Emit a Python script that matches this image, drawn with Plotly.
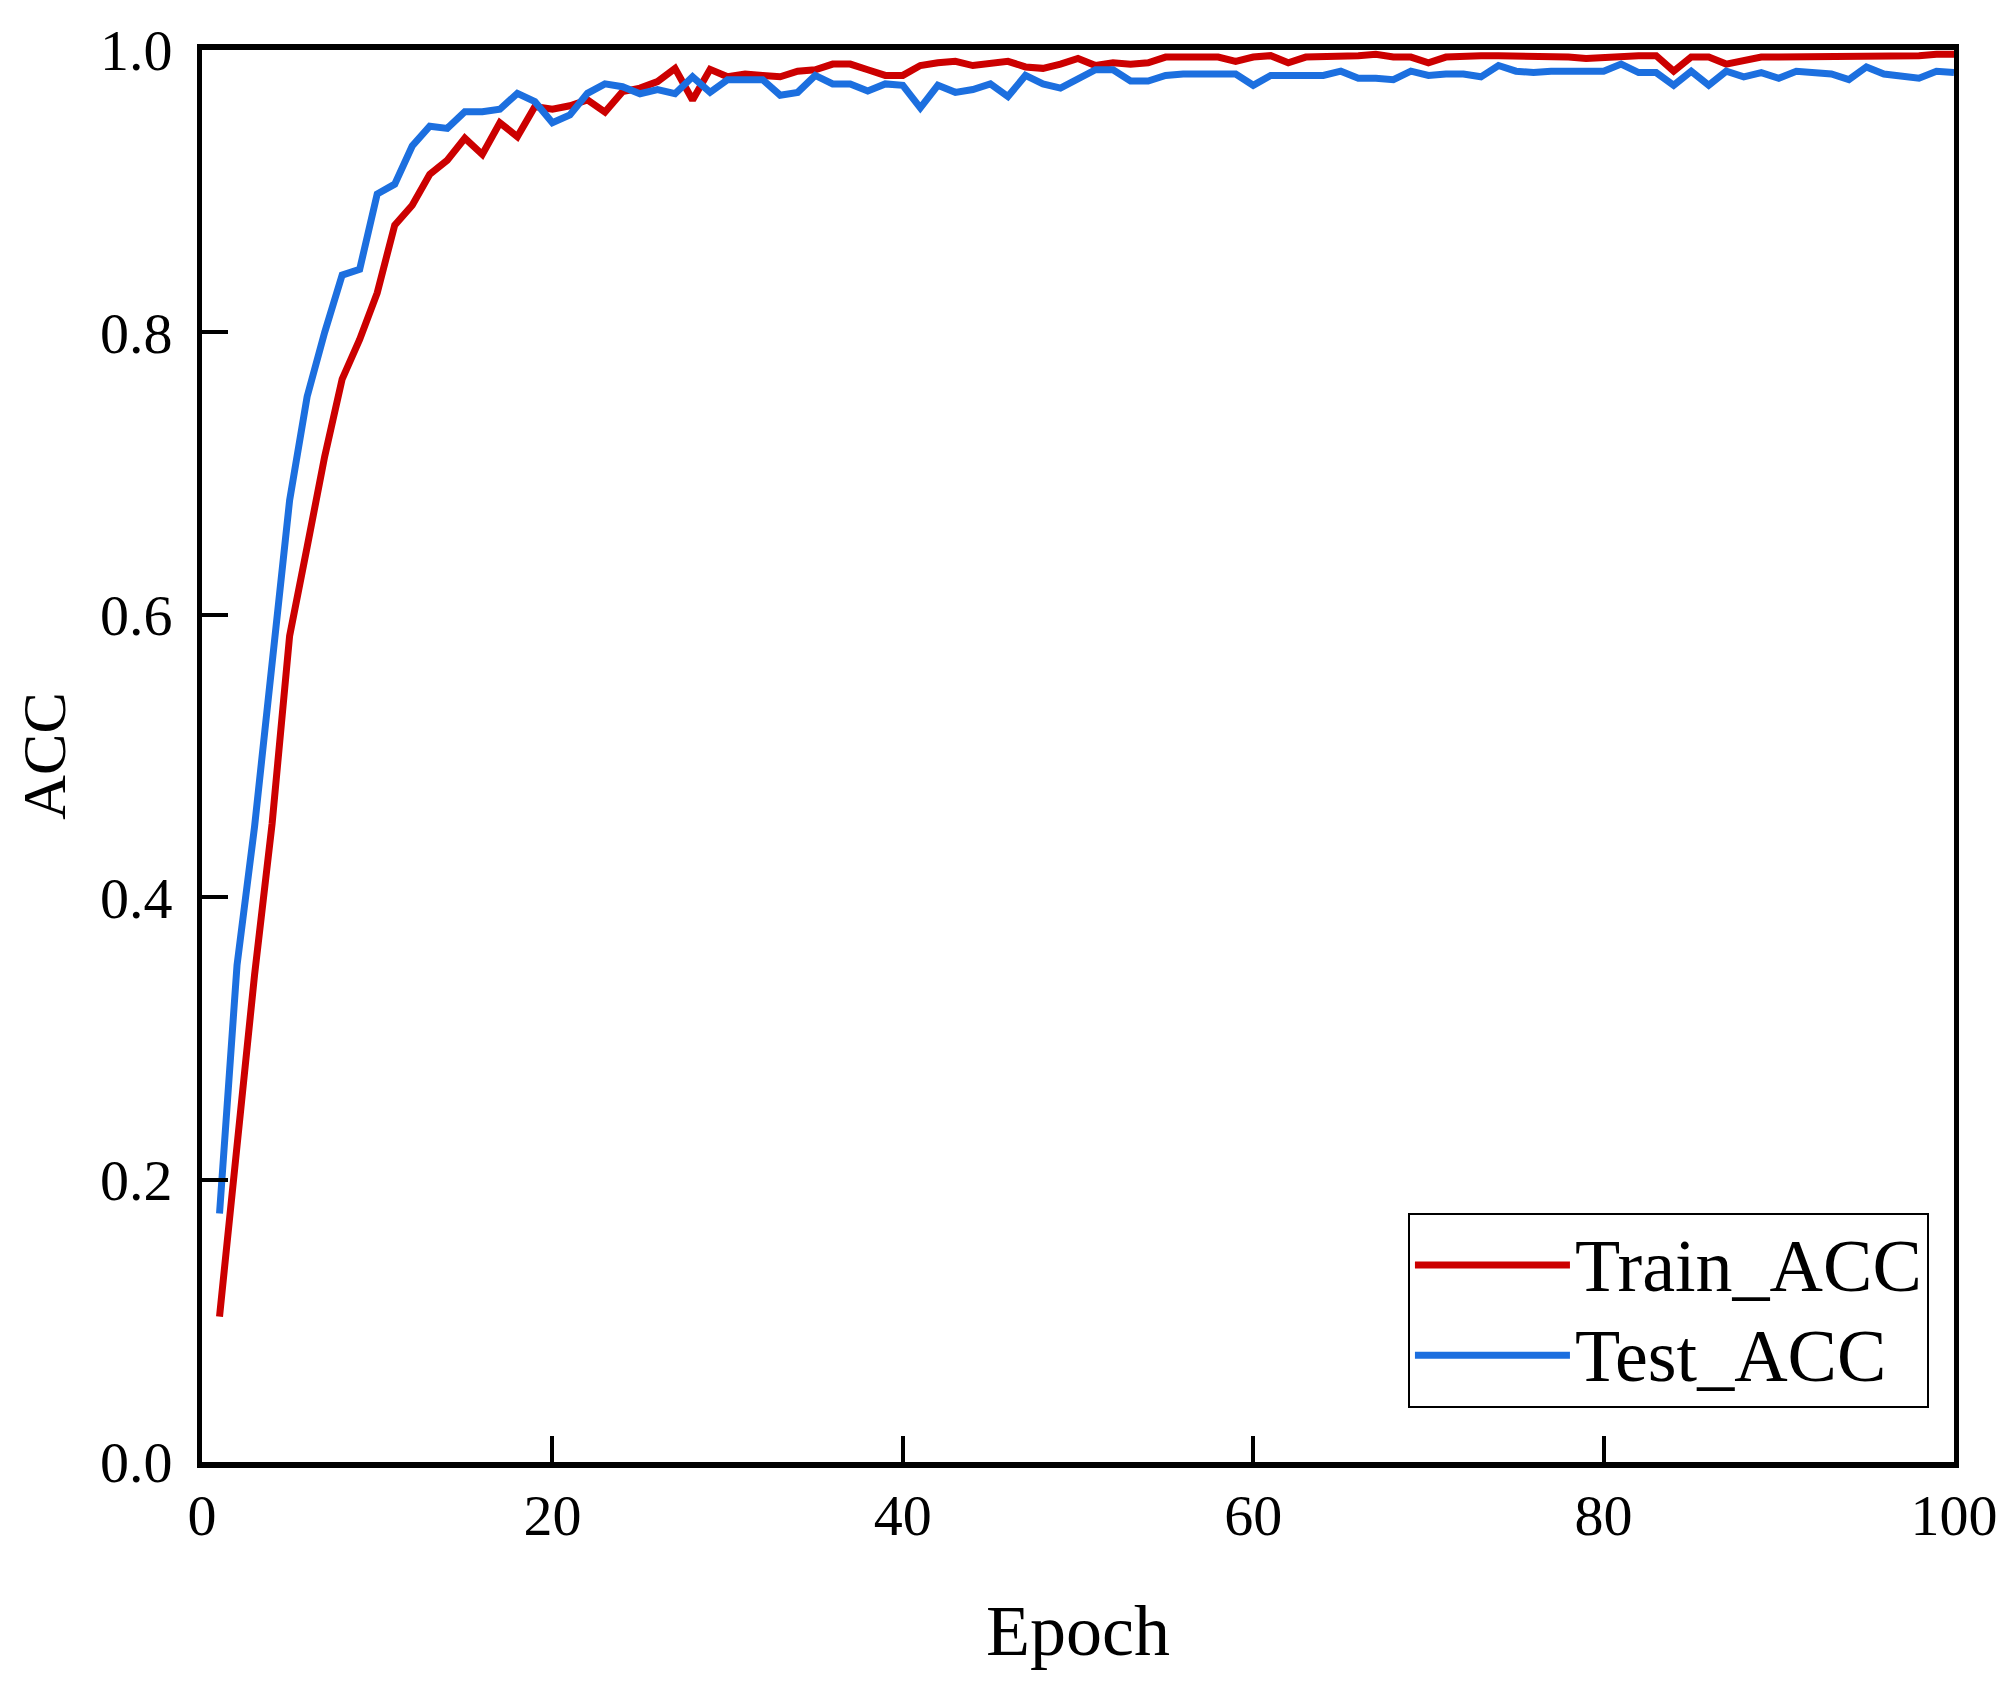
import plotly.graph_objects as go

epochs = list(range(1, 101))

train_acc = [
    0.103, 0.225, 0.345, 0.452, 0.585, 0.648, 0.712, 0.767, 0.795, 0.828,
    0.876, 0.890, 0.912, 0.922, 0.9375, 0.926, 0.9485, 0.9386, 0.960, 0.958,
    0.9605, 0.9646, 0.956, 0.9705, 0.973, 0.9776, 0.987, 0.9646, 0.9863, 0.981,
    0.983, 0.982, 0.981, 0.985, 0.986, 0.990, 0.990, 0.986, 0.982, 0.982,
    0.989, 0.991, 0.992, 0.989, 0.991, 0.992, 0.988, 0.987, 0.990, 0.994,
    0.989, 0.991, 0.990, 0.991, 0.995, 0.995, 0.995, 0.995, 0.992, 0.995,
    0.996, 0.991, 0.995, 0.995, 0.995, 0.996, 0.997, 0.995, 0.995, 0.991,
    0.995, 0.996, 0.996, 0.996, 0.996, 0.996, 0.996, 0.995, 0.994, 0.995,
    0.996, 0.996, 0.996, 0.985, 0.995, 0.995, 0.990, 0.992, 0.995, 0.995,
    0.995, 0.995, 0.995, 0.995, 0.995, 0.995, 0.995, 0.996, 0.997, 0.997,
]

test_acc = [
    0.176, 0.352, 0.450, 0.570, 0.681, 0.7545, 0.800, 0.8406, 0.8447, 0.898,
    0.905, 0.932, 0.946, 0.9445, 0.9563, 0.9563, 0.958, 0.9693, 0.9634, 0.9485,
    0.954, 0.9693, 0.976, 0.974, 0.969, 0.972, 0.969, 0.981, 0.970, 0.979,
    0.979, 0.979, 0.968, 0.970, 0.982, 0.976, 0.976, 0.971, 0.976, 0.975,
    0.959, 0.975, 0.970, 0.972, 0.976, 0.967, 0.982, 0.976, 0.973, 0.979,
    0.986, 0.986, 0.978, 0.978, 0.982, 0.983, 0.983, 0.983, 0.983, 0.975,
    0.982, 0.982, 0.982, 0.982, 0.985, 0.980, 0.980, 0.979, 0.985, 0.982,
    0.983, 0.983, 0.981, 0.989, 0.985, 0.984, 0.985, 0.985, 0.984, 0.985,
    0.990, 0.984, 0.984, 0.975, 0.985, 0.975, 0.985, 0.981, 0.984, 0.980,
    0.985, 0.984, 0.983, 0.979, 0.988, 0.983, 0.981, 0.980, 0.985, 0.984,
]

series_names = ["Train_ACC", "Test_ACC"]
x_ticks = [0, 20, 40, 60, 80, 100]
y_ticks = [0.0, 0.2, 0.4, 0.6, 0.8, 1.0]

FONT = "Liberation Serif, Times New Roman, serif"
RED = "#CC0000"
BLUE = "#1C6FDF"


def legend_label(name):
    # larger glyphs than the legend's base font, so rows keep the reference's tighter spacing
    return f'<span style="font-size:74px">{name}</span>'


fig = go.Figure()
fig.add_trace(go.Scatter(x=epochs, y=train_acc, mode="lines", name=legend_label(series_names[0]),
                         line=dict(color=RED, width=7)))
fig.add_trace(go.Scatter(x=epochs, y=test_acc, mode="lines", name=legend_label(series_names[1]),
                         line=dict(color=BLUE, width=7)))

fig.update_layout(
    width=2016, height=1682,
    margin=dict(l=194, r=70, t=42, b=228, autoexpand=False),
    paper_bgcolor="white", plot_bgcolor="white",
    font=dict(family=FONT, color="black", size=58),
    showlegend=True,
    legend=dict(
        x=0.9857, y=0.0382, xanchor="right", yanchor="bottom",
        bgcolor="white", bordercolor="black", borderwidth=2,
        font=dict(family=FONT, size=67, color="black"),
        itemwidth=155,
        tracegroupgap=0,
    ),
)

fig.update_xaxes(
    range=[0, 100], tickvals=x_ticks, ticktext=[str(v) for v in x_ticks],
    showgrid=False, zeroline=False,
    showline=True, linecolor="black", linewidth=6, mirror=True,
    ticks="inside", ticklen=26, tickwidth=4, tickcolor="black",
    ticklabelstandoff=-3,
    tickfont=dict(family=FONT, size=58, color="black"),
    title=dict(text="Epoch", font=dict(family=FONT, size=72, color="black"), standoff=60),
)
fig.update_yaxes(
    range=[0, 1], tickvals=y_ticks, ticktext=[f"{v:.1f}" for v in y_ticks],
    showgrid=False, zeroline=False,
    showline=True, linecolor="black", linewidth=5, mirror=True,
    ticks="inside", ticklen=26, tickwidth=4, tickcolor="black",
    ticklabelstandoff=13,
    tickfont=dict(family=FONT, size=58, color="black"),
    title=dict(text="ACC", font=dict(family=FONT, size=62, color="black"), standoff=16),
)

fig.write_html("out.html")
